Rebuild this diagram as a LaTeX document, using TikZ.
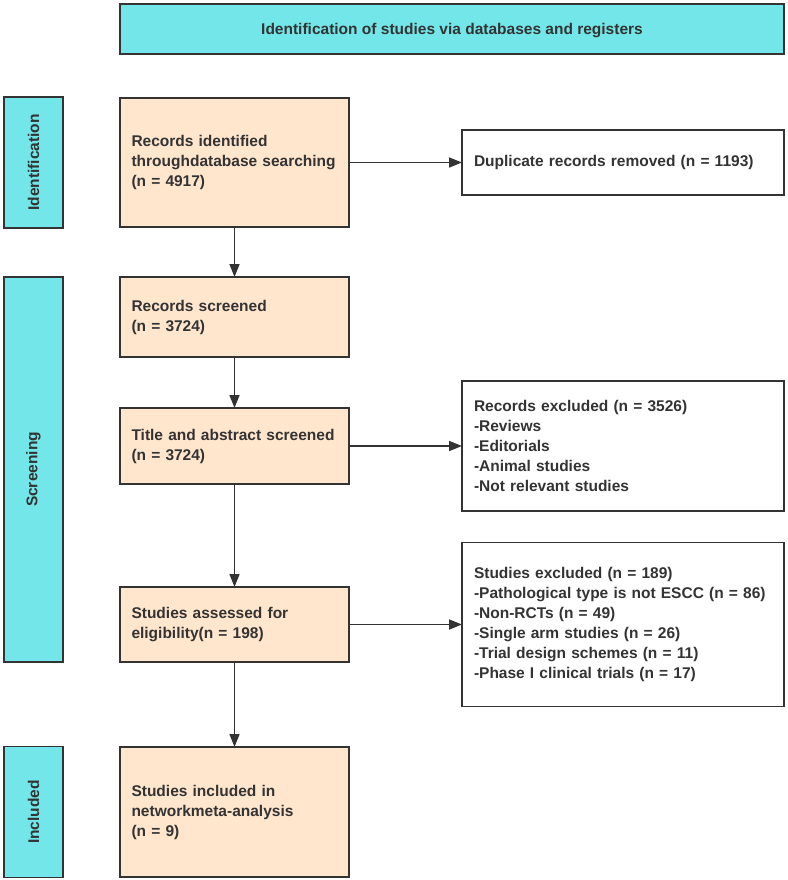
\documentclass[tikz,border=0pt]{standalone}
\usepackage{fontspec}
\setmainfont{Liberation Sans}
\usepackage{tikz}
\usetikzlibrary{arrows.meta,positioning}
\definecolor{phasecyan}{RGB}{114, 230, 232}
\definecolor{stagepeach}{RGB}{255, 230, 204}
\definecolor{inkgray}{RGB}{51, 51, 51}
\tikzset{
 phasebar/.style={
 rectangle,
 draw=inkgray,
 fill=phasecyan,
 line width=1.6pt,
 minimum width=59pt,
 inner sep=0pt,
 outer sep=0pt,
 text=inkgray,
 font=\fontsize{15.5}{20}\selectfont\bfseries
 },
 headbox/.style={
 phasebar,
 minimum width=664pt,
 minimum height=50pt,
 text depth=0pt
 },
 stage/.style={
 rectangle,
 draw=inkgray,
 fill=stagepeach,
 line width=2.2pt,
 align=left,
 text width=206pt,
 inner xsep=11.5pt,
 inner ysep=0pt,
 outer sep=0pt,
 text=inkgray,
 font=\fontsize{15.5}{20}\selectfont\bfseries
 },
 exclbox/.style={
 stage,
 fill=white,
 line width=1.6pt,
 text width=298pt,
 inner xsep=12pt
 },
 flowarrow/.style={-{Triangle[length=13pt, width=10pt]}, line width=1.6pt, draw=inkgray}
}

\begin{document}
\begin{tikzpicture}
 \useasboundingbox (0pt,0pt) rectangle (787pt,-880pt);

 \node[stage, anchor=north west, minimum height=129pt] (identified) at (120pt,-98pt)
 {Records identified\\throughdatabase searching\\(n = 4917)};
 \node[stage, below=50pt of identified, minimum height=80pt] (screened)
 {Records screened\\(n = 3724)};
 \node[stage, below=51pt of screened, minimum height=76pt] (abstract)
 {Title and abstract screened\\(n = 3724)};
 \node[stage, below=103pt of abstract, minimum height=75pt] (eligible)
 {Studies assessed for\\eligibility(n = 198)};
 \node[stage, below=85pt of eligible, minimum height=130pt] (included)
 {Studies included in\\networkmeta-analysis\\(n = 9)};

 \node[headbox, above right=44pt and 0pt of identified.north west] (header)
 {Identification of studies via databases and registers};

 \node[phasebar, left=57pt of identified, minimum height=131pt] (phaseident)
 {\rotatebox{90}{Identification}};
 \node[phasebar, below left=0pt and 57pt of screened.north west, minimum height=385pt] (phasescreen)
 {\rotatebox{90}{Screening}};
 \node[phasebar, left=57pt of included, minimum height=131pt] (phaseincl)
 {\rotatebox{90}{Included}};

 \node[exclbox, right=113pt of identified, minimum height=65pt] (duplicates)
 {Duplicate records removed (n = 1193)};
 \node[exclbox, right=113pt of abstract, minimum height=130pt] (recexcl)
 {Records excluded (n = 3526)\\-Reviews\\-Editorials\\-Animal studies\\-Not relevant studies};
 \node[exclbox, right=113pt of eligible, minimum height=164pt] (studexcl)
 {Studies excluded (n = 189)\\-Pathological type is not ESCC (n = 86)\\-Non-RCTs (n = 49)\\-Single arm studies (n = 26)\\-Trial design schemes (n = 11)\\-Phase I clinical trials (n = 17)};

 \draw[flowarrow] (identified) -- (screened);
 \draw[flowarrow] (screened) -- (abstract);
 \draw[flowarrow] (abstract) -- (eligible);
 \draw[flowarrow] (eligible) -- (included);
 \draw[flowarrow] (identified) -- (duplicates);
 \draw[flowarrow] (abstract) -- (recexcl);
 \draw[flowarrow] (eligible) -- (studexcl);
\end{tikzpicture}
\end{document}
